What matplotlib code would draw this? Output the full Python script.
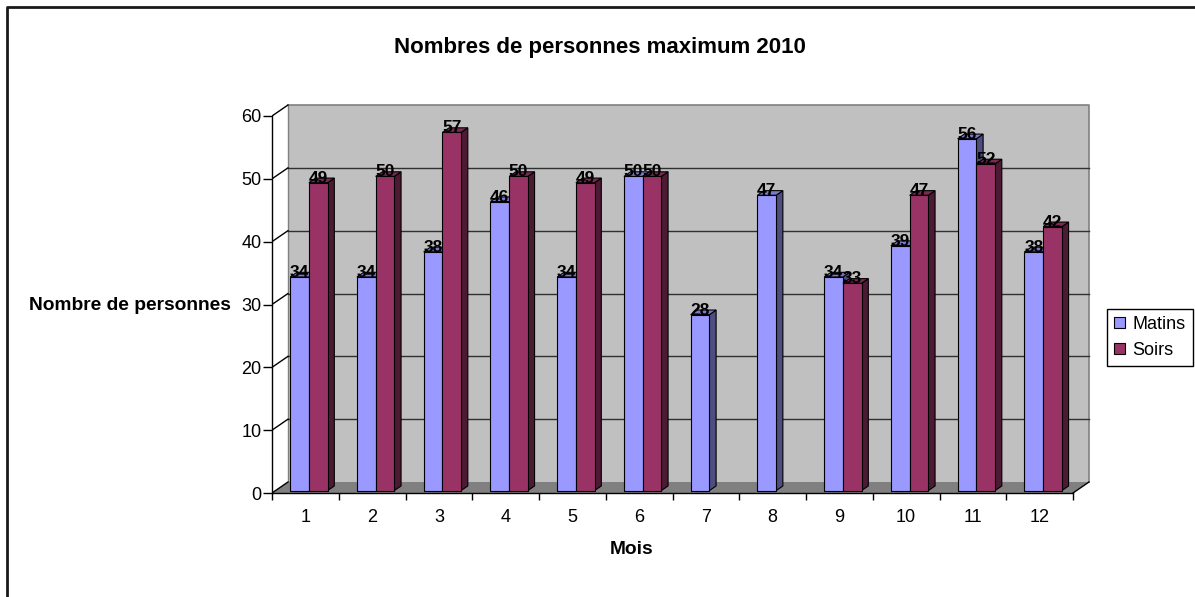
import numpy as np
import matplotlib
matplotlib.use("Agg")
import matplotlib.pyplot as plt
from matplotlib.patches import Polygon, Patch
from matplotlib.lines import Line2D

plt.rcParams['font.family'] = ['Liberation Sans', 'DejaVu Sans']

mois = [str(m) for m in range(1, 13)]
matins = [34, 34, 38, 46, 34, 50, 28, 47, 34, 39, 56, 38]
soirs = [49, 50, 57, 50, 49, 50, np.nan, np.nan, 33, 47, 52, 42]
yticks = [0, 10, 20, 30, 40, 50, 60]

W, H = 1195, 597
fig = plt.figure(figsize=(W / 100, H / 100), dpi=100)

# pixel geometry of the 3D frame (front plane)
x0_px, y0_px = 272, 493          # origin of the front axes
sx = 66.75                        # px per category
sy = 377 / 60                     # px per unit
ax_w_px, ax_h_px = 823, 393
ax = fig.add_axes([x0_px / W, (H - y0_px) / H, ax_w_px / W, ax_h_px / H])
ax.set_xlim(0.5, 0.5 + ax_w_px / sx)
ax.set_ylim(0, ax_h_px / sy)
ax.patch.set_visible(False)

# depth of the chart in data units
Dx, Dy = 16 / sx, 11 / sy
xl, xr = 0.5, 12.5
ymax = 60

# back wall
ax.add_patch(Polygon([(xl + Dx, Dy), (xr + Dx, Dy), (xr + Dx, ymax + Dy), (xl + Dx, ymax + Dy)],
                     closed=True, facecolor='#c0c0c0', edgecolor='none', zorder=0))
ax.plot([xl + Dx, xr + Dx, xr + Dx], [ymax + Dy, ymax + Dy, Dy], color='#808080', lw=1.2, zorder=1)
ax.plot([xl + Dx, xl + Dx], [Dy, ymax + Dy], color='#808080', lw=1, zorder=1)
# floor
ax.add_patch(Polygon([(xl, 0), (xr, 0), (xr + Dx, Dy), (xl + Dx, Dy)],
                     closed=True, facecolor='#808080', edgecolor='none', zorder=0.5))
ax.plot([xr, xr + Dx], [0, Dy], color='black', lw=1, zorder=1)
# gridlines on back wall + diagonals on side wall
for v in yticks:
    if 0 < v < ymax:
        ax.plot([xl + Dx, xr + Dx], [v + Dy, v + Dy], color='#303030', lw=1, zorder=1)
    ax.plot([xl, xl + Dx], [v, v + Dy], color='black', lw=1, zorder=1)

# bars
w = 18.7 / sx
f1, f2 = 0.22, 0.64
fx, fy = f1 * Dx, f1 * Dy
bdx, bdy = (f2 - f1) * Dx, (f2 - f1) * Dy
pos = np.arange(1, 13)

series = [
    (matins, -w, '#9999ff', '#7a7acc', '#4d4d80', 3),
    (soirs, 0, '#993366', '#7a2952', '#4d1a33', 4),
]
for vals, off, c_front, c_top, c_side, z in series:
    vals = np.array(vals, dtype=float)
    ok = ~np.isnan(vals)
    lefts = pos + fx + off
    for xlft, v in zip(lefts[ok], vals[ok]):
        xrt = xlft + w
        ax.add_patch(Polygon([(xrt, fy), (xrt + bdx, fy + bdy), (xrt + bdx, v + fy + bdy), (xrt, v + fy)],
                             closed=True, facecolor=c_side, edgecolor='black', lw=0.8, zorder=z))
        ax.add_patch(Polygon([(xlft, v + fy), (xrt, v + fy), (xrt + bdx, v + fy + bdy), (xlft + bdx, v + fy + bdy)],
                             closed=True, facecolor=c_top, edgecolor='black', lw=0.8, zorder=z))
    ax.bar(lefts[ok], vals[ok], width=w, bottom=fy, align='edge', color=c_front,
           edgecolor='black', lw=0.8, zorder=z + 0.1)
    for xlft, v in zip(lefts[ok], vals[ok]):
        ax.text(xlft + w / 2, v + fy, f"{v:.0f}", ha='center', va='baseline',
                fontsize=12.5, fontweight='bold', color='black', zorder=10)

# axes
for s in ['top', 'right']:
    ax.spines[s].set_visible(False)
ax.spines['left'].set_bounds(0, ymax)
ax.spines['bottom'].set_bounds(xl, xr)
ax.spines['left'].set_linewidth(1)
ax.spines['bottom'].set_linewidth(1)
ax.spines['left'].set_zorder(6)
ax.spines['bottom'].set_zorder(6)

ax.set_yticks(yticks)
ax.set_yticklabels([str(t) for t in yticks])
ax.tick_params(axis='y', direction='out', length=6.5, width=1, pad=1, labelsize=13)
ax.set_xticks(pos)
ax.set_xticklabels(mois)
ax.set_xticks(np.arange(0.5, 13, 1), minor=True)
ax.tick_params(axis='x', which='major', length=0, pad=11.5, labelsize=13)
ax.tick_params(axis='x', which='minor', direction='out', length=5, width=1)

# texts
fig.text(600 / W, 1 - 47 / H, "Nombres de personnes maximum 2010", ha='center', va='center',
         fontsize=16, fontweight='bold')
fig.text(129.5 / W, 1 - 305 / H, "Nombre de personnes", ha='center', va='center',
         fontsize=13.8, fontweight='bold')
fig.text(632 / W, 1 - 550 / H, "Mois", ha='center', va='center', fontsize=13.8, fontweight='bold')

# legend
handles = [Patch(facecolor='#9999ff', edgecolor='black', lw=0.8, label='Matins'),
           Patch(facecolor='#993366', edgecolor='black', lw=0.8, label='Soirs')]
leg = fig.legend(handles=handles, loc='center', bbox_to_anchor=(1150 / W, 1 - 337.5 / H),
                 fontsize=13, handlelength=0.6, handleheight=0.6, handletextpad=0.4,
                 labelspacing=0.5, borderpad=0.4, fancybox=False, framealpha=1)
leg.get_frame().set_edgecolor('black')
leg.get_frame().set_linewidth(1)

# chart border (left and top edges visible)
fig.add_artist(Line2D([7 / W, 7 / W, 1], [0, 1 - 7 / H, 1 - 7 / H], transform=fig.transFigure,
                      color='#1a1a1a', lw=2))

fig.savefig("out.png", dpi=100)
